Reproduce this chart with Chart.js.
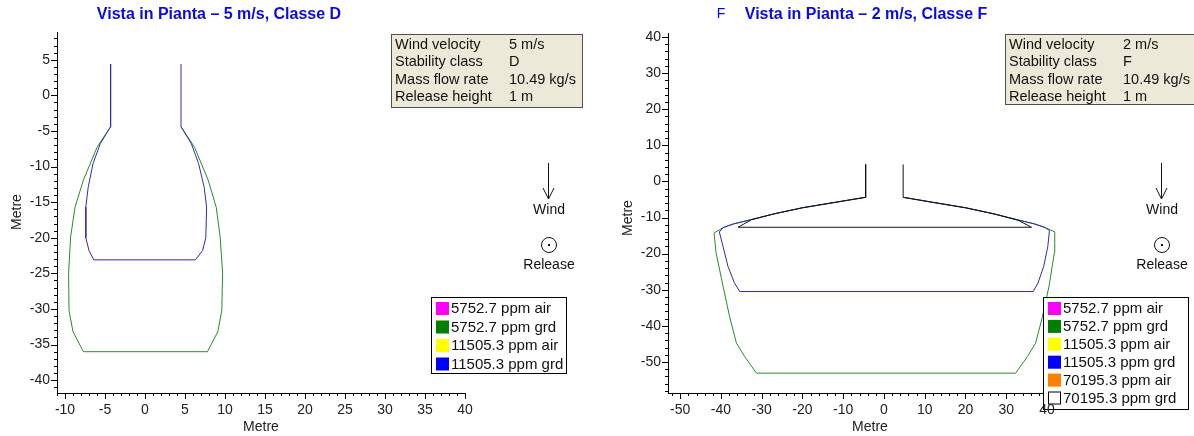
<!DOCTYPE html>
<html>
<head>
<meta charset="utf-8">
<script src="https://cdn.jsdelivr.net/npm/chart.js@4.4.0/dist/chart.umd.min.js"></script>
<style>
  body { margin: 0; background: #fff; }
  #wrap { position: relative; width: 1194px; height: 436px; overflow: hidden; }
  canvas { position: absolute; top: 0; }
</style>
</head>
<body>
<div id="wrap">
  <canvas id="chartD" width="600" height="436" style="left:0"></canvas>
  <canvas id="chartF" width="594" height="436" style="left:600px"></canvas>
</div>
<script>
// ---- 5 m/s, classe D ----
const xTicksD = [-10, -5, 0, 5, 10, 15, 20, 25, 30, 35, 40];
const yTicksD = [-40, -35, -30, -25, -20, -15, -10, -5, 0, 5];
const grd5752D_x = [-4.3, -6.0, -7.7, -8.75, -9.3, -9.55, -9.5, -9.0, -7.7, 7.8, 9.1, 9.6, 9.7, 9.4, 8.9, 7.9, 6.2, 4.5];
const grd5752D_y = [-4.4, -7.3, -11.9, -15.7, -19.9, -25, -30.2, -33.2, -36, -36, -33.2, -30.2, -25, -19.9, -15.7, -11.9, -7.3, -4.4];
const grd11505D_x = [-4.3, -4.3, -5.6, -6.5, -7.1, -7.4, -7.4, -7.0, -6.4, 6.3, 7.2, 7.6, 7.7, 7.4, 6.7, 5.8, 4.5, 4.5];
const grd11505D_y = [4.4, -4.4, -6.8, -9.6, -12.9, -15.7, -20, -21.8, -23.1, -23.1, -21.8, -20, -15.7, -12.9, -9.6, -6.8, -4.4, 4.4];

// ---- 2 m/s, classe F ----
const xTicksF = [-50, -40, -30, -20, -10, 0, 10, 20, 30, 40];
const yTicksF = [-50, -40, -30, -20, -10, 0, 10, 20, 30, 40];
const grd5752F_x = [-4.5, -12, -20, -27, -33, -37, -39.5, -41.7, -41.2, -39.5, -37.9, -36.2, -34.2, -31.3, 32.3, 35.2, 37.2, 38.9, 40.5, 41.8, 41.9, 39.6, 37, 33, 27, 20, 12, 4.7];
const grd5752F_y = [-4.4, -5.8, -7.3, -9.0, -10.7, -11.8, -12.8, -14.3, -19.8, -29, -37.4, -44.8, -48.5, -53.1, -53.1, -48.5, -44.8, -37.4, -29, -19.8, -14.0, -12.8, -11.8, -10.7, -9.0, -7.3, -5.8, -4.4];
const grd11505F_x = [-4.5, -12, -20, -27, -33, -37, -39.5, -40.4, -39.5, -38.3, -36.7, -35.4, 36.6, 37.8, 39.2, 40.2, 40.6, 39.6, 37, 33, 27, 20, 12, 4.7];
const grd11505F_y = [-4.4, -5.8, -7.3, -9.0, -10.7, -11.8, -12.8, -14.0, -18, -23.5, -28.1, -30.5, -30.5, -28.1, -23.5, -18, -13.6, -12.8, -11.8, -10.7, -9.0, -7.3, -5.8, -4.4];
const grd70195F_x = [-4.5, -4.5, -12, -20, -27, -32.5, -35.8, 36.2, 33, 27, 20, 12, 4.7, 4.7];
const grd70195F_y = [4.7, -4.4, -5.8, -7.3, -9.0, -10.6, -12.7, -12.7, -10.8, -9.0, -7.3, -5.8, -4.4, 4.7];

// texts
const infoLabels = ['Wind velocity', 'Stability class', 'Mass flow rate', 'Release height'];
const infoValuesD = ['5 m/s', 'D', '10.49 kg/s', '1 m'];
const infoValuesF = ['2 m/s', 'F', '10.49 kg/s', '1 m'];
const legendLabelsD = ['5752.7 ppm air', '5752.7 ppm grd', '11505.3 ppm air', '11505.3 ppm grd'];
const legendLabelsF = ['5752.7 ppm air', '5752.7 ppm grd', '11505.3 ppm air', '11505.3 ppm grd', '70195.3 ppm air', '70195.3 ppm grd'];
const legendColors = ['#ff00ff', '#007f00', '#ffff00', '#0000ff', '#ff8000', null];

const FONT = '"Liberation Sans", Arial, sans-serif';
const BLUE_LINE = '#2c2cb0';
const GREEN_LINE = '#2a8a2a';

function pts(xs, ys) {
  return xs.map((x, i) => ({ x: x, y: ys[i] }));
}

function decor(c) {
  return {
    id: 'decor',
    afterDatasetsDraw(chart) {
      const ctx = chart.ctx;
      const a = chart.chartArea;
      const xs = chart.scales.x, ys = chart.scales.y;
      ctx.save();

      // major + minor tick marks
      ctx.strokeStyle = '#000';
      ctx.lineWidth = 1;
      ctx.beginPath();
      for (let v = Math.ceil(ys.min / c.yMinor) * c.yMinor; v <= ys.max + 1e-9; v += c.yMinor) {
        const p = Math.round(ys.getPixelForValue(v)) + 0.5;
        const len = Math.abs(v % c.yMajor) < 1e-9 ? 6 : 3;
        ctx.moveTo(a.left - len, p);
        ctx.lineTo(a.left, p);
      }
      for (let v = Math.ceil(xs.min / c.xMinor) * c.xMinor; v <= xs.max + 1e-9; v += c.xMinor) {
        const p = Math.round(xs.getPixelForValue(v)) + 0.5;
        const len = Math.abs(v % c.xMajor) < 1e-9 ? 6 : 3;
        ctx.moveTo(p, a.bottom);
        ctx.lineTo(p, a.bottom + len);
      }
      ctx.stroke();

      // titles
      ctx.fillStyle = '#0a0ae6';
      ctx.textAlign = 'center';
      ctx.textBaseline = 'middle';
      ctx.font = 'bold 16px ' + FONT;
      ctx.fillText(c.title, c.titleX, 15);
      if (c.stray) {
        ctx.font = '14px ' + FONT;
        ctx.fillText(c.stray, c.strayX, 14);
      }

      // axis titles
      ctx.fillStyle = '#222';
      ctx.font = '14px ' + FONT;
      ctx.fillText('Metre', c.xTitleX, 427);
      ctx.save();
      ctx.translate(c.yTitleX, c.yTitleY);
      ctx.rotate(-Math.PI / 2);
      ctx.fillText('Metre', 0, 0);
      ctx.restore();

      // info box
      const b = c.info;
      ctx.fillStyle = '#ece9d8';
      ctx.fillRect(b.x, b.y, b.w, b.h);
      ctx.strokeStyle = '#505050';
      ctx.strokeRect(b.x + 0.5, b.y + 0.5, b.w, b.h);
      ctx.fillStyle = '#111';
      ctx.textAlign = 'left';
      ctx.font = '14.5px ' + FONT;
      infoLabels.forEach((t, i) => {
        ctx.fillText(t, b.x + 4, b.y + 11 + i * 17.3);
        ctx.fillText(c.infoValues[i], b.x + 118, b.y + 11 + i * 17.3);
      });

      // wind arrow + release point
      ctx.strokeStyle = '#111';
      ctx.beginPath();
      ctx.moveTo(c.windX + 0.5, 163);
      ctx.lineTo(c.windX + 0.5, 199);
      ctx.moveTo(c.windX - 5, 188);
      ctx.lineTo(c.windX + 0.5, 199);
      ctx.lineTo(c.windX + 6, 188);
      ctx.stroke();
      ctx.beginPath();
      ctx.arc(c.windX + 1, 245, 7.5, 0, Math.PI * 2);
      ctx.stroke();
      ctx.fillStyle = '#111';
      ctx.fillRect(c.windX, 244, 2, 2);
      ctx.textAlign = 'center';
      ctx.font = '14px ' + FONT;
      ctx.fillText('Wind', c.windX + 1, 210);
      ctx.fillText('Release', c.windX + 1, 265);

      // legend
      const L = c.legend;
      ctx.fillStyle = '#fff';
      ctx.fillRect(L.x, L.y, L.w, L.h);
      ctx.strokeStyle = '#000';
      ctx.strokeRect(L.x + 0.5, L.y + 0.5, L.w, L.h);
      ctx.textAlign = 'left';
      ctx.font = '15px ' + FONT;
      c.legendLabels.forEach((t, i) => {
        const cy = L.y + 11 + i * L.row;
        const col = legendColors[i];
        if (col) {
          ctx.fillStyle = col;
          ctx.fillRect(L.x + 5, cy - 6, 13, 13);
        } else {
          ctx.strokeStyle = '#000';
          ctx.strokeRect(L.x + 5.5, cy - 5.5, 12, 12);
        }
        ctx.fillStyle = '#111';
        ctx.fillText(t, L.x + 20, cy + 1);
      });
      ctx.restore();
    }
  };
}

function makeChart(id, c) {
  const canvas = document.getElementById(id);
  const W = canvas.width, H = canvas.height;
  const tickFont = { family: FONT, size: 14 };
  return new Chart(canvas.getContext('2d'), {
    type: 'scatter',
    data: {
      datasets: c.series.map(s => ({
        label: s.label,
        data: pts(s.x, s.y),
        showLine: true,
        borderColor: s.color,
        borderWidth: 1,
        pointRadius: 0,
        fill: false,
        tension: 0,
        clip: false
      }))
    },
    options: {
      responsive: false,
      animation: false,
      events: [],
      layout: { padding: { left: 0, top: c.area.top, right: W - c.area.right, bottom: 0 } },
      plugins: { legend: { display: false }, tooltip: { enabled: false } },
      scales: {
        x: {
          type: 'linear', min: c.xMin, max: c.xMax,
          afterBuildTicks: s => { s.ticks = c.xTicks.map(v => ({ value: v })); },
          afterFit: s => { s.height = H - c.area.bottom; },
          grid: { display: false, drawTicks: false },
          border: { display: true, color: '#000', width: 1 },
          ticks: { font: tickFont, color: '#222', padding: 9, maxRotation: 0, autoSkip: false, z: 1 }
        },
        y: {
          type: 'linear', min: c.yMin, max: c.yMax,
          afterBuildTicks: s => { s.ticks = c.yTicks.map(v => ({ value: v })); },
          afterFit: s => { s.width = c.area.left; },
          grid: { display: false, drawTicks: false },
          border: { display: true, color: '#000', width: 1 },
          ticks: { font: tickFont, color: '#222', padding: 7, autoSkip: false }
        }
      }
    },
    plugins: [decor(c)]
  });
}

makeChart('chartD', {
  area: { left: 57, right: 465, top: 32, bottom: 393 },
  xMin: -11, xMax: 40, yMin: -41.8, yMax: 8.9,
  xTicks: xTicksD, yTicks: yTicksD,
  xMinor: 1, xMajor: 5, yMinor: 1, yMajor: 5,
  series: [
    { label: '11505.3 ppm grd', x: grd11505D_x, y: grd11505D_y, color: BLUE_LINE },
    { label: '5752.7 ppm grd', x: grd5752D_x, y: grd5752D_y, color: GREEN_LINE }
  ],
  title: 'Vista in Pianta \u2013 5 m/s, Classe D', titleX: 219,
  xTitleX: 261, yTitleX: 17, yTitleY: 212,
  info: { x: 391, y: 34, w: 191, h: 73 }, infoValues: infoValuesD,
  windX: 548,
  legend: { x: 431, y: 297, w: 135, h: 76, row: 18.5 }, legendLabels: legendLabelsD
});

makeChart('chartF', {
  area: { left: 68, right: 447, top: 33, bottom: 393 },
  xMin: -53, xMax: 40, yMin: -58.6, yMax: 41.1,
  xTicks: xTicksF, yTicks: yTicksF,
  xMinor: 2, xMajor: 10, yMinor: 2, yMajor: 10,
  series: [
    { label: '70195.3 ppm grd', x: grd70195F_x, y: grd70195F_y, color: '#111' },
    { label: '11505.3 ppm grd', x: grd11505F_x, y: grd11505F_y, color: BLUE_LINE },
    { label: '5752.7 ppm grd', x: grd5752F_x, y: grd5752F_y, color: GREEN_LINE }
  ],
  title: 'Vista in Pianta \u2013 2 m/s, Classe F', titleX: 266,
  stray: 'F', strayX: 121,
  xTitleX: 270, yTitleX: 28, yTitleY: 218,
  info: { x: 405, y: 34, w: 200, h: 70 }, infoValues: infoValuesF,
  windX: 561,
  legend: { x: 443, y: 297, w: 145, h: 112, row: 17.9 }, legendLabels: legendLabelsF
});
</script>
</body>
</html>
